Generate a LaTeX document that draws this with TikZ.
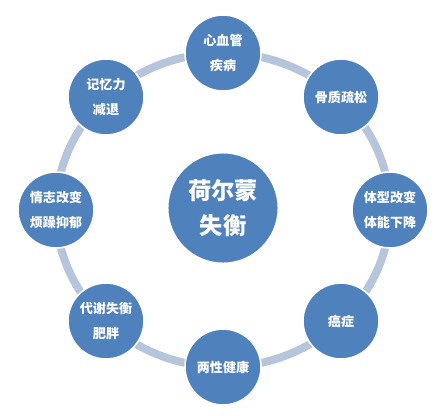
\documentclass[tikz,border=0pt]{standalone}
\usepackage{fontspec}
\newfontfamily\cjk{Noto Sans CJK SC}
\definecolor{nodeblue}{HTML}{4F81BD}
\definecolor{ringblue}{HTML}{B7C5DC}
\tikzset{
  ring/.style={draw=ringblue, line width=6pt},
  outer/.style={circle, fill=nodeblue, draw=white, line width=1.2pt,
    minimum size=57pt, inner sep=0pt, align=center, text=white,
    font=\cjk\bfseries\fontsize{9.8}{19}\selectfont},
  hub/.style={circle, fill=nodeblue, draw=white, line width=1.2pt,
    minimum size=83pt, inner sep=0pt, align=center, text=white,
    font=\cjk\bfseries\fontsize{17.5}{26}\selectfont}
}
\begin{document}
\begin{tikzpicture}[x=0.75pt, y=-0.75pt]
  \useasboundingbox (0,0) rectangle (448,415);
  % 外圈
  \draw[ring] (223,210) ellipse [x radius=167, y radius=157];
  % 中心
  \node[hub] (hormone) at (223,208) {荷尔蒙\\失衡};
  % 周围各项
  \node[outer] (heart) at (223,53) {心血管\\疾病};
  \node[outer] (bone) at (341,97) {骨质疏松};
  \node[outer] (body) at (390,210) {体型改变\\体能下降};
  \node[outer] (cancer) at (341,321) {癌症};
  \node[outer] (sex) at (223,367) {两性健康};
  \node[outer] (metab) at (106,321) {代谢失衡\\肥胖};
  \node[outer] (mood) at (56,210) {情志改变\\烦躁抑郁};
  \node[outer] (memory) at (106,97) {记忆力\\减退};
\end{tikzpicture}
\end{document}
